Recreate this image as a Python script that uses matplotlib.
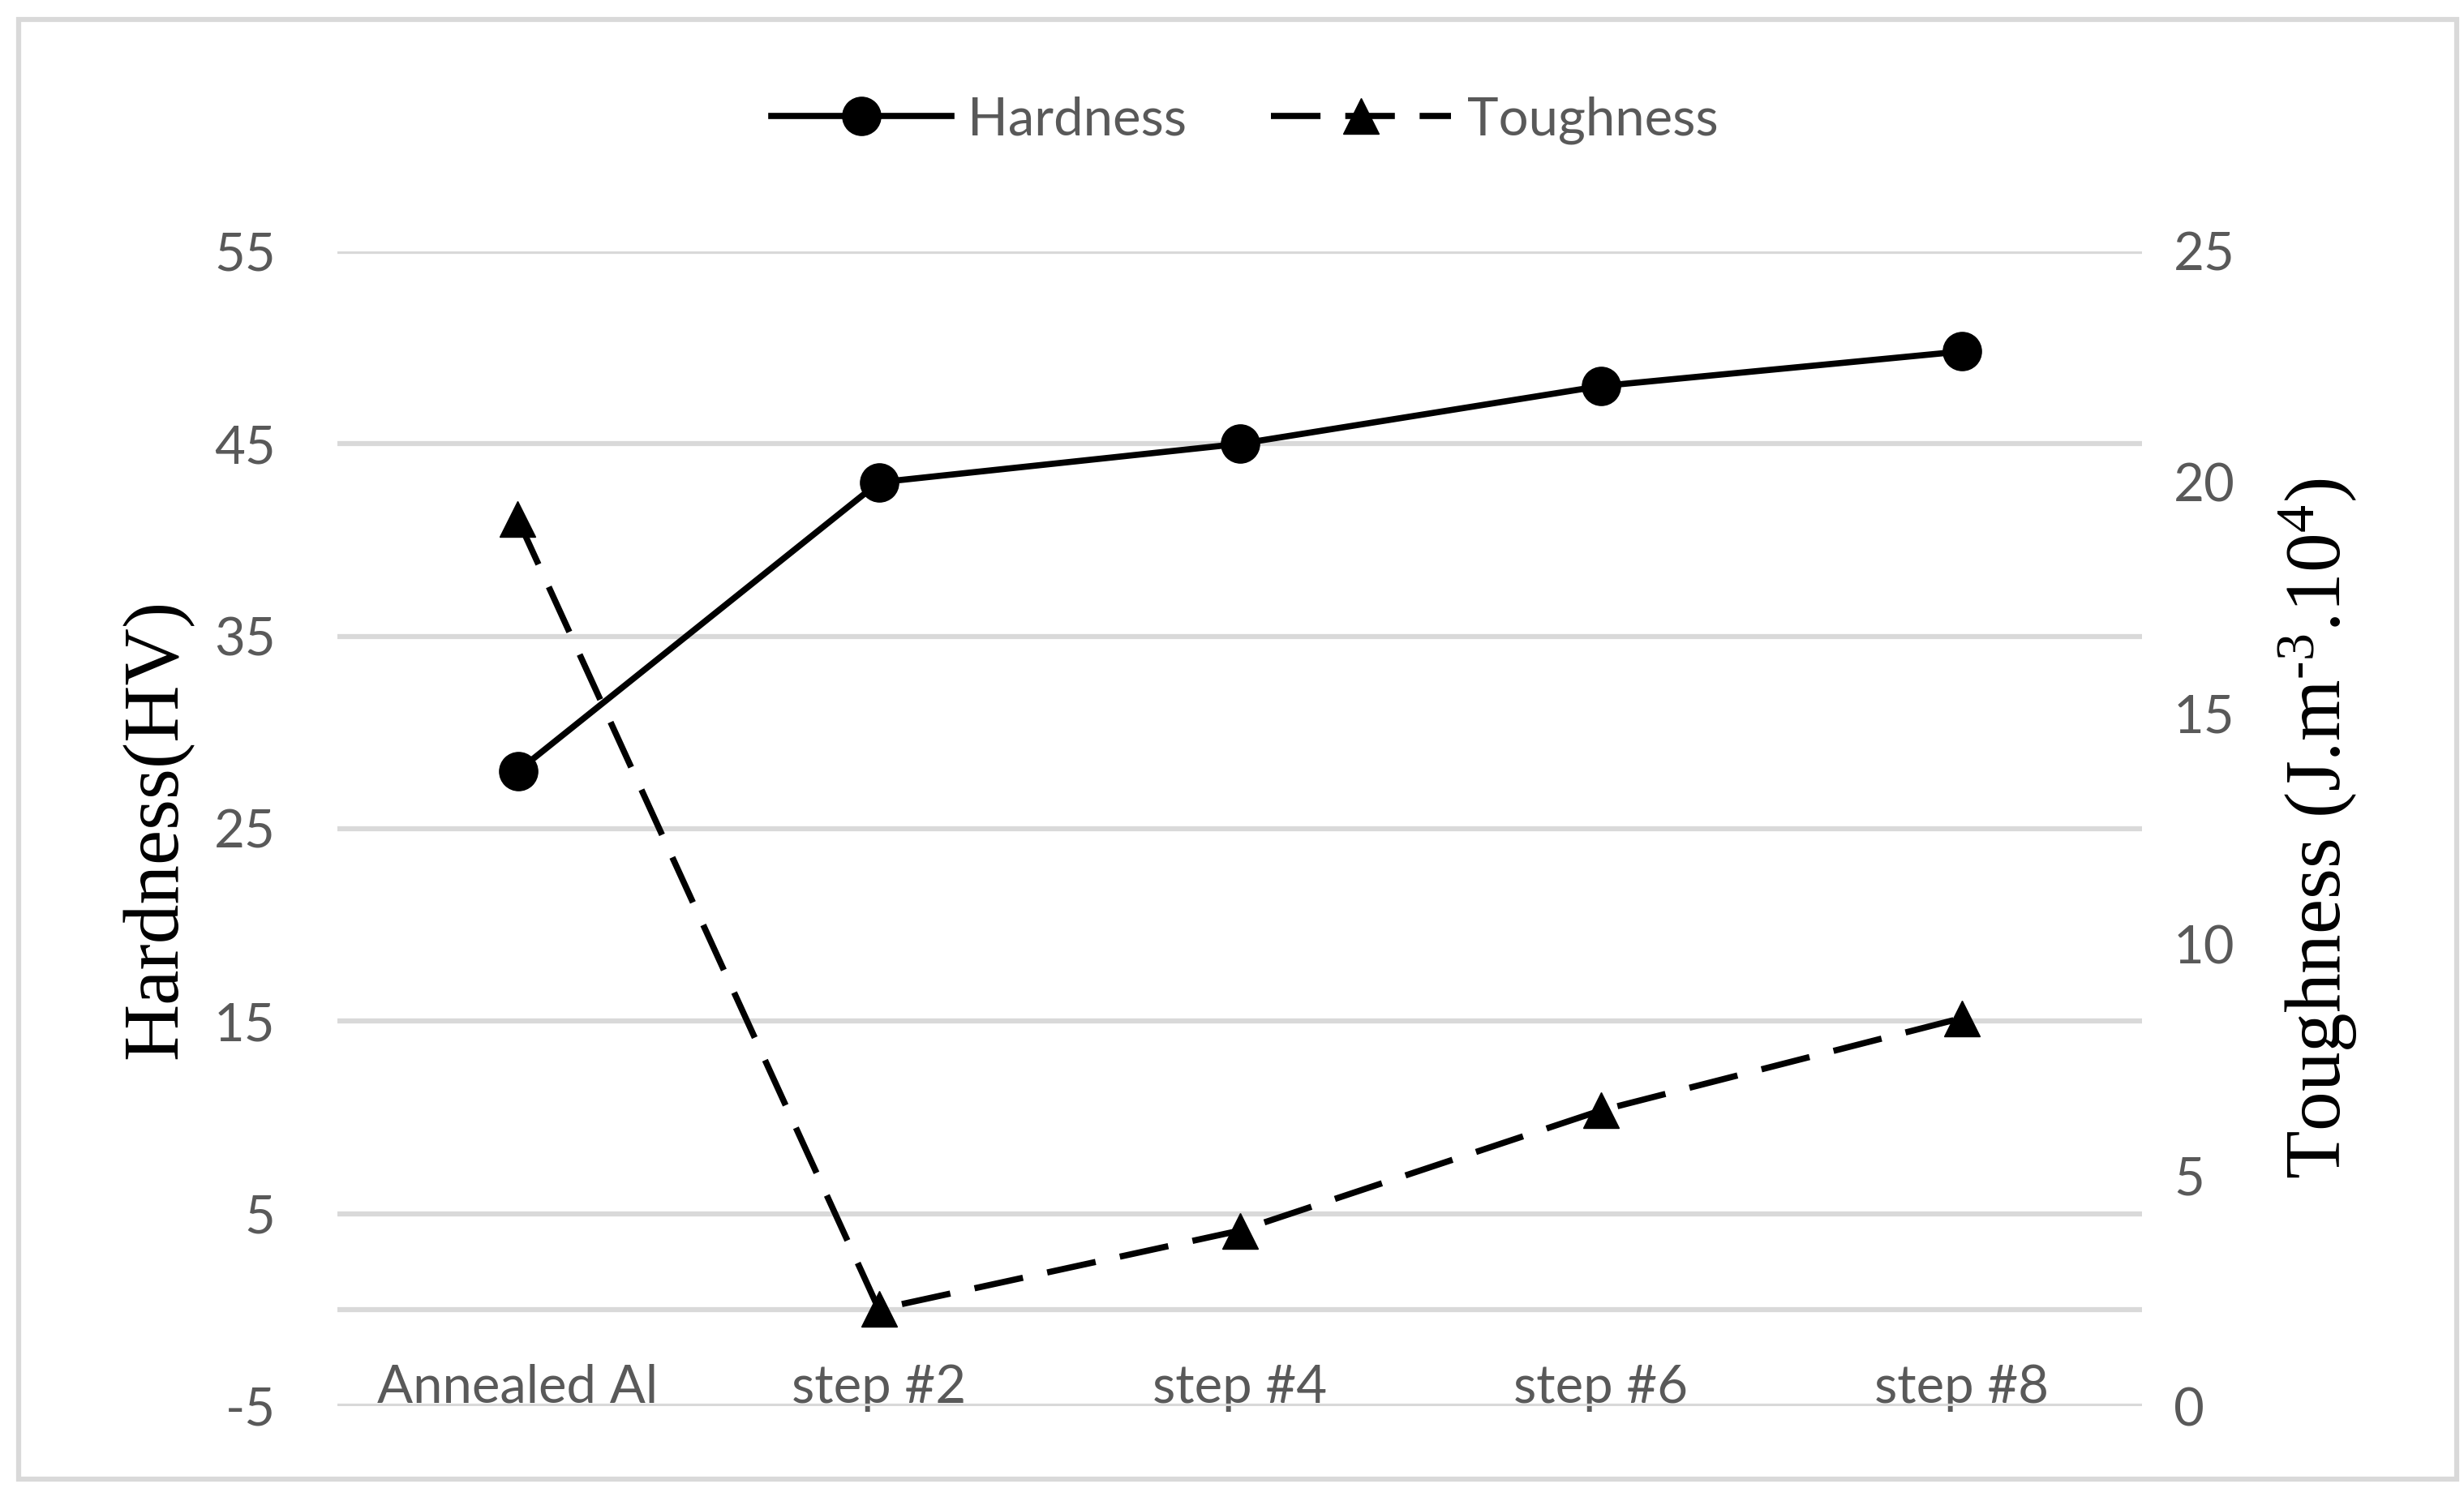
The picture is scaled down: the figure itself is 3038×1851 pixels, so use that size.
import numpy as np
import matplotlib
matplotlib.use('Agg')
import matplotlib.pyplot as plt
from matplotlib.patches import Rectangle

categories = ['Annealed Al', 'step #2', 'step #4', 'step #6', 'step #8']
hardness = [28.0, 43.0, 45.0, 48.0, 49.8]
toughness = [19.2, 2.1, 3.8, 6.4, 8.4]
left_ticks = [-5, 5, 15, 25, 35, 45, 55]
right_ticks = [0, 5, 10, 15, 20, 25]

plt.rcParams['axes.unicode_minus'] = False
plt.rcParams['mathtext.fontset'] = 'custom'
plt.rcParams['mathtext.rm'] = 'Liberation Serif'
plt.rcParams['mathtext.it'] = 'Liberation Serif:italic'

W, H = 3038, 1851
fig = plt.figure(figsize=(W / 100, H / 100), dpi=100)
fig.patch.set_facecolor('white')

# outer frame like the Excel chart area
fig.patches.append(Rectangle((23 / W, 27 / H), (3029 - 23) / W, (1827 - 27) / H,
                             transform=fig.transFigure, fill=False,
                             edgecolor='#d9d9d9', linewidth=4.5))

ax = fig.add_axes([416 / W, 1 - 1734 / H, (2641 - 416) / W, (1734 - 310) / H])
ax2 = ax.twinx()

grey = '#d9d9d9'
txt = '#595959'
tick_font = 'Lato'
fs = 47

x = np.arange(len(categories))

ax.set_ylim(-5, 55)
ax.set_yticks(left_ticks)
ax.set_xlim(-0.5, len(categories) - 0.5)
ax.grid(axis='y', color=grey, linewidth=4.5)
ax.axhline(0, color=grey, linewidth=4.5, zorder=0.5)
ax.set_axisbelow(True)
for s in ax.spines.values():
    s.set_visible(False)
for s in ax2.spines.values():
    s.set_visible(False)

ax.plot(x, hardness, color='black', linewidth=5.5, marker='o', markersize=34,
        label='Hardness', zorder=3)
ax2.plot(x, toughness, color='black', linewidth=5.5, dashes=(8, 4),
         marker='^', markersize=31, label='Toughness', zorder=3)
ax2.set_ylim(0, 25)
ax2.set_yticks(right_ticks)

ax.tick_params(axis='y', length=0, pad=55, labelsize=fs, labelcolor=txt)
ax2.tick_params(axis='y', length=0, pad=28, labelsize=fs, labelcolor=txt)
ax.set_xticks(x)
ax.set_xticklabels(categories)
ax.tick_params(axis='x', length=0, pad=5, labelsize=fs, labelcolor=txt)
for lbl in ax.get_xticklabels():
    lbl.set_verticalalignment('bottom')
ax.set_xticks(x[1:], minor=True)
ax.tick_params(axis='x', which='minor', length=7, width=1.5, color='#7f7f7f')

for lbl in ax.get_yticklabels() + ax2.get_yticklabels() + ax.get_xticklabels():
    lbl.set_family(tick_font)

ax.set_ylabel('Hardness(HV)', family='Liberation Serif', fontsize=70,
              color='black')
ax2.set_ylabel('Toughness (J.m$^{\u20103}$.10$^{4}$)',
               family='Liberation Serif', fontsize=70, color='black',
               rotation=90)
ax.yaxis.set_label_coords(-0.08, 0.5)
ax2.yaxis.set_label_coords(1.074, 0.5)

h1, l1 = ax.get_legend_handles_labels()
h2, l2 = ax2.get_legend_handles_labels()
leg = fig.legend(h1 + h2, l1 + l2, loc='center', bbox_to_anchor=(1535 / W, 1 - 148 / H),
                 ncol=2, frameon=False, handlelength=3.4, handletextpad=0.3,
                 columnspacing=1.6, prop={'family': tick_font, 'size': fs})
for t in leg.get_texts():
    t.set_color(txt)

fig.savefig('out.png', dpi=100, facecolor='white')
